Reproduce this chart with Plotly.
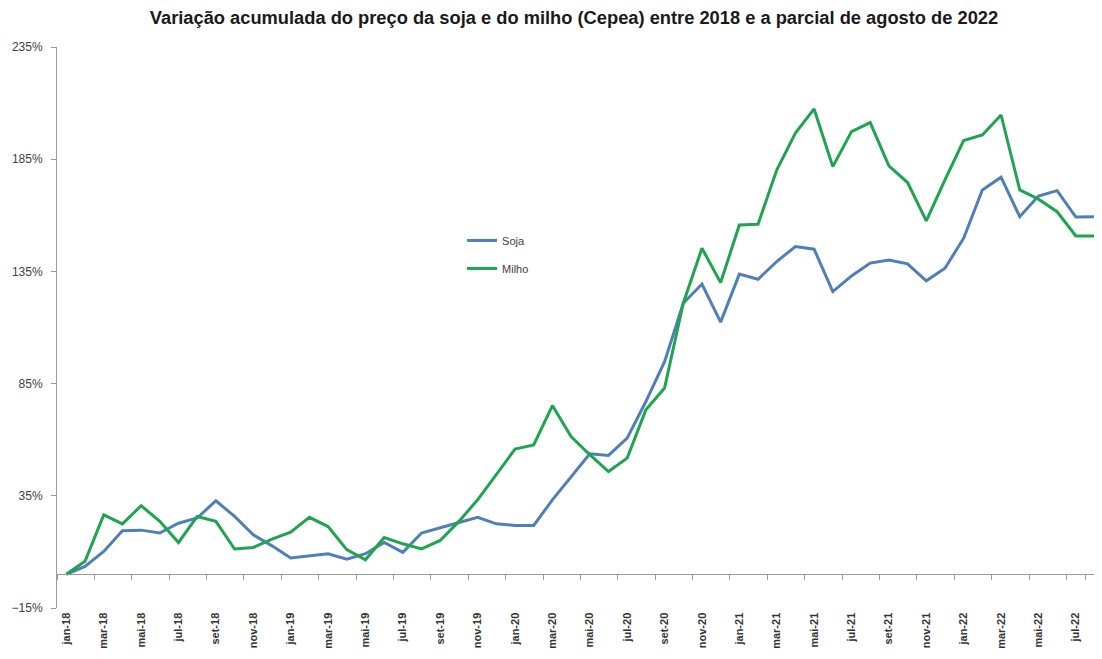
import plotly.graph_objects as go

months = ["jan", "fev", "mar", "abr", "mai", "jun", "jul", "ago", "set", "out", "nov", "dez"]
categories = [f"{m}-{y}" for y in ["18", "19", "20", "21", "22"] for m in months][:56]

soja = [0, 3.5, 10.2, 19.4, 19.7, 18.4, 22.8, 25.1, 32.8, 25.8, 17.6, 12.7,
        7.3, 8.3, 9.2, 6.8, 9.2, 14.2, 9.8, 18.4, 20.6, 23.1, 25.4, 22.5,
        21.8, 21.8, 33.2, 43.3, 53.7, 53.0, 60.7, 77.0, 94.8, 120.8, 129.4, 112.4,
        133.8, 131.5, 139.4, 146.1, 144.9, 126.0, 133.0, 138.7, 140.1, 138.4, 130.8, 136.4,
        149.8, 171.3, 177.0, 159.4, 168.6, 171.0, 159.2, 159.4]

milho = [0, 5.8, 26.5, 22.5, 30.6, 23.6, 14.2, 25.8, 23.6, 11.3, 12.0, 15.7,
         18.8, 25.4, 21.3, 11.0, 6.5, 16.4, 13.6, 11.3, 15.1, 23.6, 33.2, 44.4,
         55.8, 57.7, 75.2, 61.4, 53.3, 45.8, 51.8, 73.3, 83.0, 120.8, 145.3, 130.0,
         155.7, 156.0, 180.2, 196.6, 207.4, 181.7, 197.3, 201.3, 182.0, 174.6, 157.5, 175.8,
         193.3, 195.8, 204.7, 171.3, 167.2, 161.6, 150.8, 150.8]

tick_labels = categories[::2]
title_text = "Variação acumulada do preço da soja e do milho (Cepea) entre 2018 e a parcial de agosto de 2022"

fig = go.Figure()
fig.add_trace(go.Scatter(x=categories, y=soja, name="Soja", mode="lines",
                         line=dict(color="#4F7FBA", width=3), legendgroup="a"))
fig.add_trace(go.Scatter(x=categories, y=milho, name="Milho", mode="lines",
                         line=dict(color="#1FA44F", width=3), legendgroup="b"))

Y_MIN, Y_MAX = -15, 235

fig.update_layout(
    width=1102, height=659,
    margin=dict(l=49, r=8, t=39, b=59, autoexpand=False),
    paper_bgcolor="white", plot_bgcolor="white",
    title=dict(text=title_text, x=0.5136, xanchor="center", y=0.985, yanchor="middle",
               font=dict(family="Liberation Sans, Arial, sans-serif", size=18.3,
                         color="#1a1a1a", weight="bold")),
    showlegend=True,
    legend=dict(x=0.3876, y=0.681, xanchor="left", yanchor="top",
                bgcolor="rgba(0,0,0,0)", tracegroupgap=9,
                font=dict(family="Liberation Sans, Arial, sans-serif", size=11, color="#404040")),
    xaxis=dict(
        type="category", categoryorder="array", categoryarray=categories,
        range=[-0.5, 55.4], automargin=False,
        anchor="free", position=(0 - Y_MIN) / (Y_MAX - Y_MIN),
        showline=True, linecolor="#9a9a9a", linewidth=1,
        ticks="outside", ticklen=5, tickcolor="#9a9a9a", tickson="boundaries",
        tickmode="array", tickvals=tick_labels, ticktext=tick_labels,
        tickangle=-90, ticklabelstandoff=33,
        tickfont=dict(family="Liberation Sans, Arial, sans-serif", size=11,
                      color="#333333", weight="bold"),
        showgrid=False, zeroline=False,
    ),
    yaxis=dict(
        range=[Y_MIN, Y_MAX], tickmode="linear", tick0=Y_MIN, dtick=50, automargin=False,
        ticksuffix="%", showline=True, linecolor="#9a9a9a", linewidth=1,
        ticks="outside", ticklen=5, tickcolor="#9a9a9a", ticklabelstandoff=6,
        tickfont=dict(family="Liberation Sans, Arial, sans-serif", size=12, color="#404040"),
        showgrid=False, zeroline=False,
    ),
)

fig.write_html("out.html")
